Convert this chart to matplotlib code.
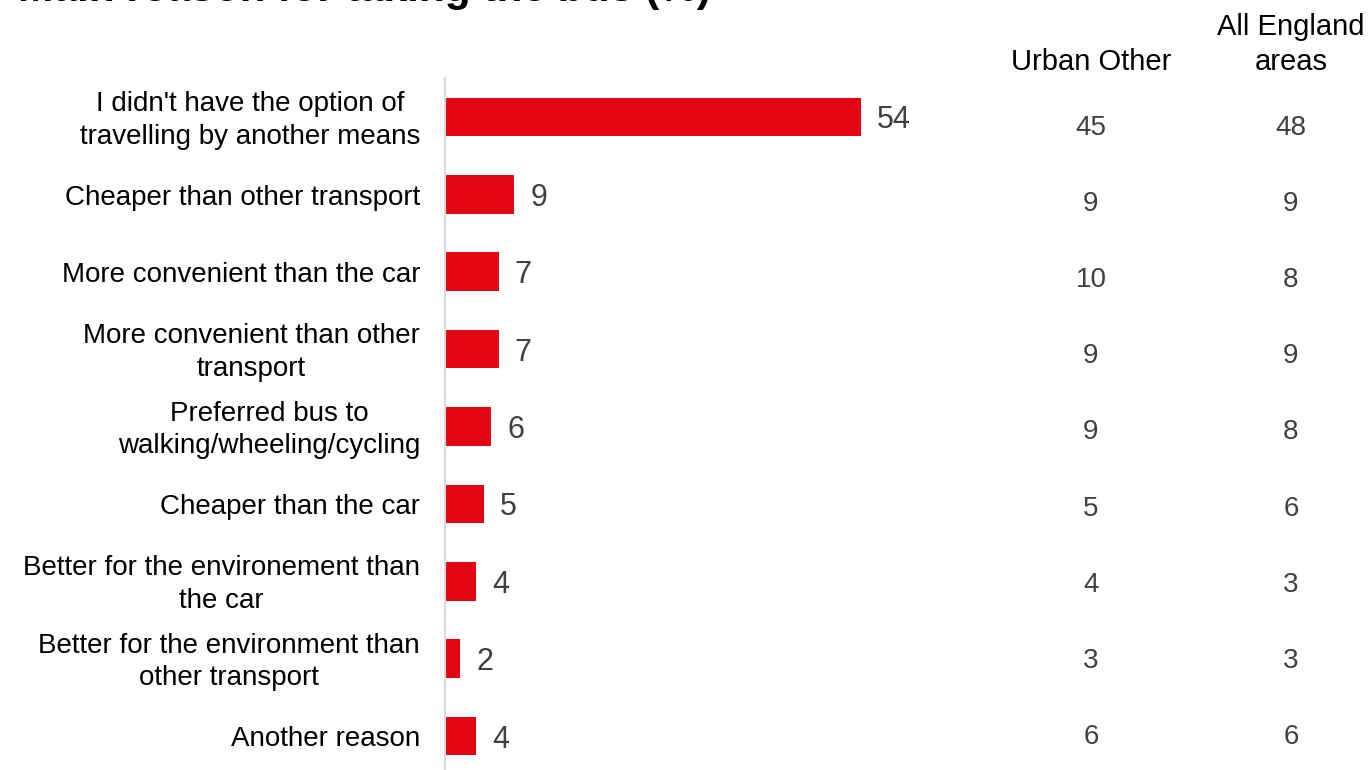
import numpy as np
import matplotlib
matplotlib.use("Agg")
import matplotlib.pyplot as plt
from matplotlib.transforms import ScaledTranslation

plt.rcParams['font.family'] = ['Liberation Sans', 'DejaVu Sans']

title = "Main reason for taking the bus (%)"
categories = [
    "I didn't have the option of\ntravelling by another means",
    "Cheaper than other transport",
    "More convenient than the car",
    "More convenient than other\ntransport",
    "Preferred bus to\nwalking/wheeling/cycling",
    "Cheaper than the car",
    "Better for the environement than\nthe car",
    "Better for the environment than\nother transport",
    "Another reason",
]
region_values = [54, 9, 7, 7, 6, 5, 4, 2, 4]
urban_other = [45, 9, 10, 9, 9, 5, 4, 3, 6]
all_england = [48, 9, 8, 9, 8, 6, 3, 3, 6]
col_headers = ["Urban Other", "All England\nareas"]

W, H = 1370, 770
RED = '#E30613'
GREY_TXT = '#404040'

fig = plt.figure(figsize=(W / 100, H / 100), dpi=100)
rect = [445 / W, 0, 925 / W, 1 - 78 / H]
ax = fig.add_axes(rect)

y = np.arange(len(categories))
bars = ax.barh(y, region_values, height=0.5, color=RED)
vlabels = ax.bar_label(bars, labels=[str(v) for v in region_values], padding=11.5,
                       fontsize=22, color=GREY_TXT)
for t in vlabels:
    t.set_verticalalignment('center_baseline')

step = 77.375
ax.set_ylim(8 + (770 - 736) / step, -(117 - 78) / step)
ax.set_xlim(0, 925 / 7.7)

for s in ['top', 'right', 'bottom']:
    ax.spines[s].set_visible(False)
ax.spines['left'].set_color('#D9D9D9')
ax.spines['left'].set_linewidth(1.5)
ax.set_xticks([])
ax.set_yticks(y, categories)
ax.tick_params(axis='y', length=0, pad=18, labelsize=20, labelcolor='black')
shift = ScaledTranslation(0, -0.035, fig.dpi_scale_trans)
for t in ax.get_yticklabels():
    t.set_verticalalignment('center')
    t.set_multialignment('center')
    t.set_linespacing(1.33)
    t.set_transform(t.get_transform() + shift)

# table columns
tab = fig.add_axes(rect)
tab.axis('off')
tab.set_xlim(0, 1)
cstep = 76.1
tab.set_ylim((770 - 125) / cstep, (78 - 125) / cstep)
col_x = [(1091 - 445) / 925, (1291 - 445) / 925]
for cx, col in zip(col_x, [urban_other, all_england]):
    for i, v in enumerate(col):
        tab.text(cx, i, str(v), ha='center', va='center_baseline', fontsize=20, color=GREY_TXT)

fig.text(1091 / W, 1 - 70 / H, col_headers[0], ha='center', va='baseline', fontsize=21, color='black')
fig.text(1291 / W, 1 - 70 / H, col_headers[1], ha='center', va='baseline', fontsize=21,
         color='black', multialignment='center', linespacing=1.33)

fig.text(18 / W, 1 - 1 / H, title, ha='left', va='baseline', fontsize=30.5,
         fontweight='bold', color='black')

fig.savefig('out.png', dpi=100)
